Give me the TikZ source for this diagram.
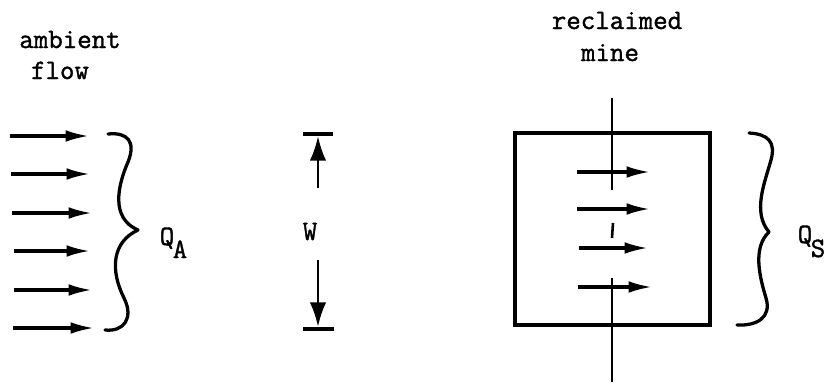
\documentclass[tikz,border=0pt]{standalone}
\usepackage{fontspec}
\newfontfamily\twfont{Latin Modern Mono}[FakeBold=1.3]
\usetikzlibrary{arrows.meta}
\begin{document}
\begin{tikzpicture}[x=0.03cm,y=-0.03cm,
  lbl/.style={font=\twfont\fontsize{24}{28}\selectfont, inner sep=0pt},
  flowarrow/.style={line width=2.6pt, -{Latex[length=20pt,width=10pt]}},
  dimarrow/.style={line width=2.4pt, -{Latex[length=21pt,width=14pt]}},
  bar/.style={line width=3.2pt},
  bracestyle/.style={line width=2.8pt, line cap=round, line join=round},
  boxstyle/.style={line width=3.2pt, line join=miter},
  section/.style={line width=2.2pt}]
\useasboundingbox (0,0) rectangle (834,385);

% labels
\node[lbl, anchor=base] (amb) at (70,48) {ambient};
\node[lbl, anchor=base] (flw) at (60,79) {flow};
\node[lbl, anchor=base] (rec) at (617,29) {reclaimed};
\node[lbl, anchor=base] (min) at (610,61) {mine};

% ambient flow arrows
\foreach \i/\y/\xs/\xe in {1/136/10/89,2/174/11/90,3/213/12/92,4/251/14/90,5/290/14/92,6/328/13/94}{
  \coordinate (as\i) at (\xs,\y);
  \coordinate (ae\i) at (\xe,\y);
  \draw[flowarrow] (as\i) -- (ae\i);
}

% left brace
\coordinate (lbt) at (108,134);
\coordinate (lbm) at (138,230);
\coordinate (lbb) at (105,330);
\draw[bracestyle] (lbt) .. controls (128,132) and (136,142) .. (128,162)
  .. controls (118,185) and (110,218) .. (lbm)
  .. controls (112,242) and (110,270) .. (124,298)
  .. controls (134,318) and (124,332) .. (lbb);
\node[lbl, anchor=base] (qa) at (167,245) {Q};
\node[lbl, anchor=base] (qasub) at (180,258) {A};

% W dimension
\coordinate (wt1) at (303,134); \coordinate (wt2) at (333,134);
\coordinate (wb1) at (303,329); \coordinate (wb2) at (334,329);
\draw[bar] (wt1) -- (wt2);
\draw[bar] (wb1) -- (wb2);
\node[lbl, anchor=base] (w) at (310,240) {W};
\coordinate (wus) at (318,188); \coordinate (wue) at (318,136);
\coordinate (wds) at (318,260); \coordinate (wde) at (318,327);
\draw[dimarrow] (wus) -- (wue);
\draw[dimarrow] (wds) -- (wde);

% reclaimed mine box
\node[boxstyle, draw, minimum width=195*0.03cm, minimum height=192*0.03cm, inner sep=0pt] (box) at (612.5,229) {};
\coordinate (v1) at (612,98); \coordinate (v2) at (612,190);
\coordinate (v3) at (613,223); \coordinate (v4) at (612,238);
\coordinate (v5) at (612,278); \coordinate (v6) at (612,382);
\draw[section] (v1) -- (v2);
\draw[section] (v3) -- (v4);
\draw[section] (v5) -- (v6);
\foreach \i/\y/\xs/\xe in {1/172/577/650,2/209/577/650,3/248/579/648,4/287/578/652}{
  \coordinate (bs\i) at (\xs,\y);
  \coordinate (be\i) at (\xe,\y);
  \draw[flowarrow] (bs\i) -- (be\i);
}

% right brace
\coordinate (rbt) at (749,133);
\coordinate (rbm) at (769,232);
\coordinate (rbb) at (737,325);
\draw[bracestyle] (rbt) .. controls (768,134) and (776,142) .. (771,160)
  .. controls (765,182) and (752,212) .. (rbm)
  .. controls (752,248) and (760,278) .. (766,298)
  .. controls (772,318) and (756,326) .. (rbb);
\node[lbl, anchor=base] (qs) at (805,243) {Q};
\node[lbl, anchor=base] (qssub) at (818,257) {S};
\end{tikzpicture}
\end{document}
